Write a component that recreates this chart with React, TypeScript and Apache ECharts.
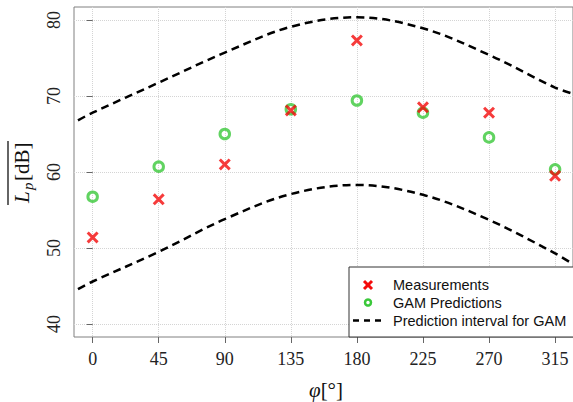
import React, { useEffect, useRef } from "react";
import * as echarts from "echarts";

// Data
const angles = [0, 45, 90, 135, 180, 225, 270, 315];
const measurements = [51.4, 56.4, 61.0, 68.1, 77.3, 68.5, 67.8, 59.5];
const gamPredictions = [56.75, 60.7, 65.0, 68.25, 69.4, 67.8, 64.55, 60.35];
const intervalAngles = [-10, 0, 45, 90, 135, 180, 225, 270, 315, 327];
const upperBound = [66.8, 67.8, 71.75, 75.7, 79.1, 80.35, 78.9, 75.4, 71.1, 70.3];
const lowerBound = [44.6, 45.6, 49.5, 53.8, 57.1, 58.3, 57.0, 53.7, 49.3, 47.9];
const xTicks = [0, 45, 90, 135, 180, 225, 270, 315];
const yTicks = [40, 50, 60, 70, 80];
const legendLabels = ["Measurements", "GAM Predictions", "Prediction interval for GAM"];

const RED = "#f40a0a";
const GREEN = "#3ac83a";
const SERIF = "'Liberation Serif', 'DejaVu Serif', serif";
const SANS = "'Liberation Sans', Arial, sans-serif";

const crossPath =
  "path://M0,2.1 L2.1,0 L6,3.9 L9.9,0 L12,2.1 L8.1,6 L12,9.9 L9.9,12 L6,8.1 L2.1,12 L0,9.9 L3.9,6 Z";

export default function App() {
  const ref = useRef<HTMLDivElement>(null);

  useEffect(() => {
    if (!ref.current) return;
    const chart = echarts.init(ref.current, undefined, { renderer: "svg" });

    const pairs = (xs: number[], ys: number[]) => xs.map((x, i) => [x, ys[i]]);

    const legendY = [285, 302.5, 320.5];

    chart.setOption({
      animation: false,
      backgroundColor: "#ffffff",
      grid: {
        left: 74,
        top: 7,
        right: -1,
        bottom: 65,
        show: true,
        borderColor: "#808080",
        borderWidth: 1,
        backgroundColor: "transparent",
      },
      xAxis: {
        type: "value",
        min: -12.7,
        max: 327.2,
        axisLine: { show: false },
        axisTick: {
          show: true,
          customValues: xTicks,
          length: 6,
          lineStyle: { color: "#666" },
        },
        axisLabel: {
          customValues: xTicks,
          margin: 13,
          fontFamily: SERIF,
          fontSize: 18,
          color: "#222",
        },
        splitLine: {
          show: true,
          lineStyle: { color: "#d4d4d4", type: "dotted", width: 1 },
        },
      },
      yAxis: {
        type: "value",
        min: 38.3,
        max: 81.7,
        axisLine: { show: false },
        axisTick: {
          show: true,
          customValues: yTicks,
          length: 6,
          lineStyle: { color: "#666" },
        },
        axisLabel: {
          customValues: yTicks,
          rotate: 90,
          margin: 11,
          fontFamily: SERIF,
          fontSize: 18,
          color: "#222",
        },
        splitLine: {
          show: true,
          lineStyle: { color: "#d4d4d4", type: "dotted", width: 1 },
        },
      },
      series: [
        {
          name: "Upper",
          type: "line",
          data: pairs(intervalAngles, upperBound),
          showSymbol: false,
          smooth: 0.35,
          lineStyle: { color: "#000", width: 2.5, type: [8, 5] },
          z: 3,
        },
        {
          name: "Lower",
          type: "line",
          data: pairs(intervalAngles, lowerBound),
          showSymbol: false,
          smooth: 0.35,
          lineStyle: { color: "#000", width: 2.5, type: [8, 5] },
          z: 3,
        },
        {
          name: legendLabels[1],
          type: "scatter",
          data: pairs(angles, gamPredictions),
          symbol: "circle",
          symbolSize: 9.5,
          itemStyle: { color: "rgba(0,0,0,0)", borderColor: GREEN, borderWidth: 3 },
          z: 4,
        },
        {
          name: legendLabels[0],
          type: "scatter",
          data: pairs(angles, measurements),
          symbol: crossPath,
          symbolSize: 12,
          itemStyle: { color: RED },
          z: 5,
        },
      ],
      graphic: [
        // y axis title (rotated) with overline
        {
          type: "group",
          x: 32,
          y: 172,
          rotation: Math.PI / 2,
          children: [
            {
              type: "text",
              x: -31,
              y: 0,
              style: {
                text: "L",
                font: `italic 21px ${SERIF}`,
                fill: "#111",
                verticalAlign: "bottom",
              },
            },
            {
              type: "text",
              x: -18,
              y: 3,
              style: {
                text: "p",
                font: `italic 15px ${SERIF}`,
                fill: "#111",
                verticalAlign: "bottom",
              },
            },
            {
              type: "text",
              x: -9,
              y: 0,
              style: {
                text: "[dB]",
                font: `21px ${SERIF}`,
                fill: "#111",
                verticalAlign: "bottom",
              },
            },
            {
              type: "line",
              shape: { x1: -33, y1: -24, x2: 31, y2: -24 },
              style: { stroke: "#111", lineWidth: 1.3 },
            },
          ],
        },
        // x axis title
        {
          type: "text",
          x: 326,
          y: 390,
          style: {
            text: "{i|φ}{n|[°]}",
            align: "center",
            verticalAlign: "middle",
            rich: {
              i: { font: `italic 21px ${SERIF}`, fill: "#111" },
              n: { font: `21px ${SERIF}`, fill: "#111" },
            },
          },
        },
        // legend
        {
          type: "rect",
          z: 100,
          shape: { x: 349, y: 267, width: 240, height: 70 },
          style: { fill: "#fff", stroke: "#333", lineWidth: 1 },
        },
        {
          type: "line",
          z: 101,
          shape: { x1: 364, y1: legendY[0] - 4, x2: 372, y2: legendY[0] + 4 },
          style: { stroke: RED, lineWidth: 3 },
        },
        {
          type: "line",
          z: 101,
          shape: { x1: 364, y1: legendY[0] + 4, x2: 372, y2: legendY[0] - 4 },
          style: { stroke: RED, lineWidth: 3 },
        },
        {
          type: "circle",
          z: 101,
          shape: { cx: 368, cy: legendY[1], r: 3 },
          style: { fill: "none", stroke: GREEN, lineWidth: 2.5 },
        },
        {
          type: "line",
          z: 101,
          shape: { x1: 353, y1: legendY[2], x2: 381, y2: legendY[2] },
          style: { stroke: "#000", lineWidth: 2.5, lineDash: [6, 5] },
        },
        ...legendLabels.map((t, i) => ({
          type: "text",
          z: 101,
          x: 393,
          y: legendY[i],
          style: {
            text: t,
            font: `14.5px ${SANS}`,
            fill: "#111",
            verticalAlign: "middle",
          },
        })),
      ],
    });

    return () => chart.dispose();
  }, []);

  return (
    <div
      ref={ref}
      style={{ position: "fixed", left: 0, top: 0, width: 573, height: 402 }}
    />
  );
}
